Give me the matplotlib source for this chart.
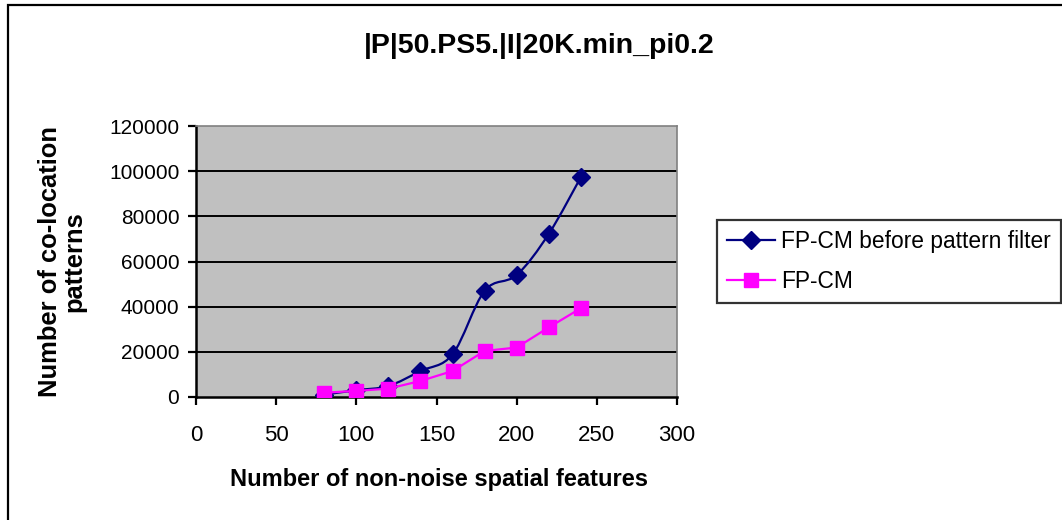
import numpy as np
import matplotlib
matplotlib.use("Agg")
import matplotlib.pyplot as plt
from matplotlib.path import Path
from matplotlib.patches import PathPatch, Rectangle
from matplotlib.lines import Line2D

plt.rcParams['font.family'] = ['Liberation Sans', 'DejaVu Sans']

# Data
title = "|P|50.PS5.|I|20K.min_pi0.2"
features = [80, 100, 120, 140, 160, 180, 200, 220, 240]
before_filter = [1100, 3000, 4900, 11500, 18900, 47000, 54000, 72200, 97300]
fp_cm = [1900, 2700, 3700, 7100, 11500, 20400, 21900, 30800, 39300]
series_names = ["FP-CM before pattern filter", "FP-CM"]
x_ticks = [0, 50, 100, 150, 200, 250, 300]
y_ticks = [0, 20000, 40000, 60000, 80000, 100000, 120000]

NAVY = "#000080"
MAGENTA = "#FF00FF"

W, H = 1062, 520
fig = plt.figure(figsize=(W / 100, H / 100), dpi=100)
fig.patch.set_facecolor("white")

# outer chart frame (runs off the right and bottom edges)
fig.add_artist(Rectangle((8 / W, -0.05), 1.2, 1 - 5 / H + 0.05,
                         transform=fig.transFigure, fill=False,
                         edgecolor="black", linewidth=1.6, zorder=0))

ax = fig.add_axes([196 / W, 1 - 397 / H, (677 - 196) / W, (397 - 126) / H])
ax.set_facecolor("#C0C0C0")
ax.set_xlim(x_ticks[0], x_ticks[-1])
ax.set_ylim(y_ticks[0], y_ticks[-1])
ax.set_xticks(x_ticks)
ax.set_yticks(y_ticks)
ax.set_xticklabels([str(v) for v in x_ticks], fontsize=16)
ax.set_yticklabels([str(v) for v in y_ticks], fontsize=15)
ax.tick_params(axis="both", direction="out", length=6, width=1.6, colors="black")
ax.tick_params(axis="x", pad=14)
ax.tick_params(axis="y", pad=6)

for s in ("left", "bottom"):
    ax.spines[s].set_color("black")
    ax.spines[s].set_linewidth(1.8)
for s in ("top", "right"):
    ax.spines[s].set_color("#808080")
    ax.spines[s].set_linewidth(1.2)

for v in y_ticks[1:-1]:
    ax.axhline(v, color="black", linewidth=1.4, zorder=1)


def smooth_path(xs, ys):
    """Cubic Bezier curve through the points (Catmull-Rom style tangents)."""
    pts = np.column_stack([xs, ys]).astype(float)
    n = len(pts)
    verts = [pts[0]]
    codes = [Path.MOVETO]
    for i in range(n - 1):
        p0 = pts[i - 1] if i > 0 else pts[i]
        p1 = pts[i]
        p2 = pts[i + 1]
        p3 = pts[i + 2] if i + 2 < n else pts[i + 1]
        c1 = p1 + (p2 - p0) / 6.0
        c2 = p2 - (p3 - p1) / 6.0
        verts += [c1, c2, p2]
        codes += [Path.CURVE4] * 3
    return Path(verts, codes)


ax.add_patch(PathPatch(smooth_path(features, before_filter), facecolor="none",
                       edgecolor=NAVY, linewidth=1.6, zorder=3))
ax.plot(features, before_filter, linestyle="none", marker="D", markersize=9,
        color=NAVY, zorder=4)
ax.plot(features, fp_cm, color=MAGENTA, linewidth=1.6, marker="s",
        markersize=10, zorder=5)

fig.text(539 / W, 1 - 46 / H, title, ha="center", va="center",
         fontsize=20.5, fontweight="bold")

ax.set_xlabel("Number of non-noise spatial features", fontsize=17,
              fontweight="bold")
ax.xaxis.set_label_coords((439 - 196) / 481, (397 - 468) / 271)
ax.set_ylabel("Number of co-location\npatterns", fontsize=18.4,
              fontweight="bold", linespacing=1.0)
ax.yaxis.set_label_coords((86 - 196) / 481, 0.5)

handles = [
    Line2D([], [], color=NAVY, linewidth=1.6, marker="D", markersize=9),
    Line2D([], [], color=MAGENTA, linewidth=1.6, marker="s", markersize=10),
]
leg = fig.legend(handles, series_names, loc="upper left",
                 bbox_to_anchor=(717 / W, 1 - 220 / H), borderaxespad=0,
                 prop={"size": 16.4}, frameon=True, fancybox=False,
                 shadow=False, handlelength=2.1, handletextpad=0.25,
                 labelspacing=0.72, borderpad=0.45)
leg.get_frame().set_edgecolor("black")
leg.get_frame().set_linewidth(1.6)

fig.savefig("out.png", dpi=100)
